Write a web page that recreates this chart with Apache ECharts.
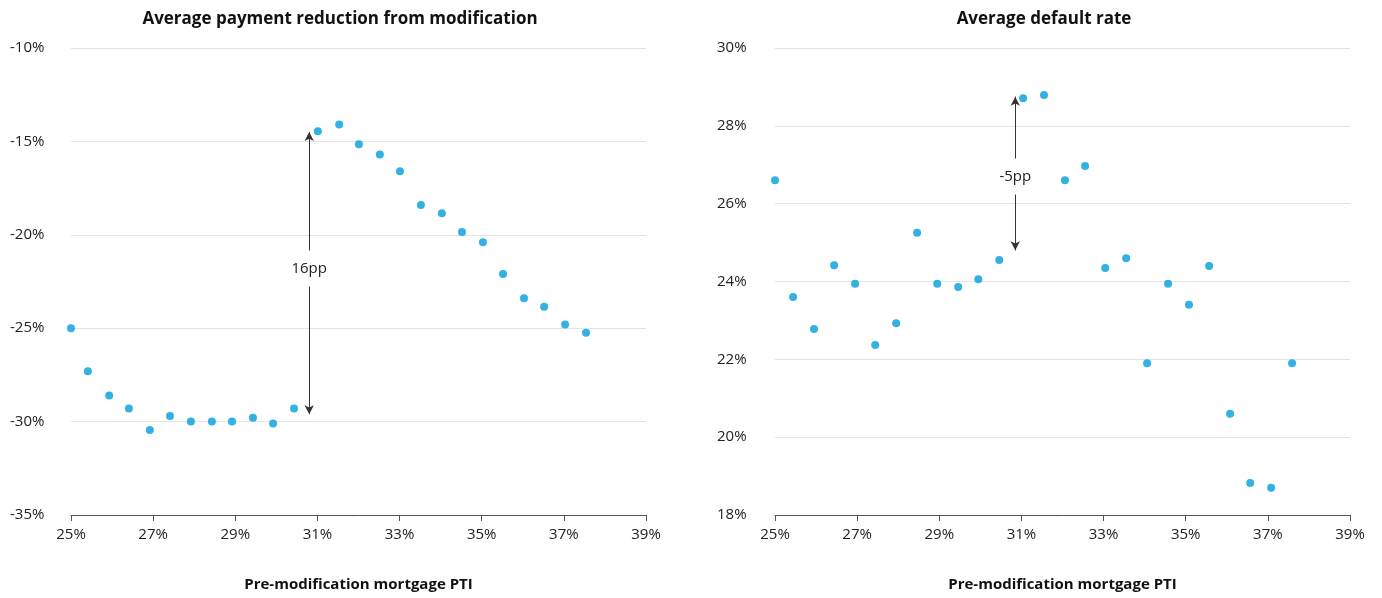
<!DOCTYPE html>
<html><head><meta charset="utf-8">
<script src="https://cdn.jsdelivr.net/npm/echarts@6/dist/echarts.min.js"></script>
<style>html,body{margin:0;background:#fff}#c{width:1382px;height:598px}</style>
</head><body><div id="c"></div>
<script>
var ptiLeft = [25.0,25.41,25.93,26.41,26.92,27.41,27.92,28.43,28.92,29.43,29.92,30.43,31.01,31.53,32.01,32.52,33.01,33.52,34.03,34.52,35.03,35.52,36.03,36.52,37.03,37.54];
var paymentReduction = [-25.0,-27.3,-28.6,-29.3,-30.45,-29.7,-30.0,-30.0,-30.0,-29.8,-30.1,-29.3,-14.45,-14.1,-15.15,-15.7,-16.6,-18.4,-18.85,-19.85,-20.4,-22.1,-23.4,-23.85,-24.8,-25.25];
var ptiRight = [25.0,25.44,25.95,26.44,26.95,27.44,27.95,28.46,28.95,29.46,29.95,30.46,31.04,31.55,32.06,32.55,33.04,33.55,34.06,34.57,35.08,35.57,36.08,36.57,37.08,37.59];
var defaultRate = [26.6,23.6,22.78,24.42,23.94,22.37,22.93,25.25,23.94,23.86,24.06,24.55,28.71,28.79,26.6,26.97,24.35,24.6,21.9,23.94,23.4,24.4,20.6,18.82,18.7,21.9];

function pairs(xs, ys){ return xs.map(function(x,i){ return [x, ys[i]]; }); }

var font = "'Open Sans', sans-serif";
var xAxisBase = {
  type: 'value', min: 25, max: 39, interval: 2,
  name: 'Pre-modification mortgage PTI', nameLocation: 'middle', nameGap: 62,
  nameTextStyle: { fontWeight: 'bold', fontSize: 15, color: '#111' },
  axisLine: { lineStyle: { color: '#555' } },
  axisTick: { show: true, length: 6, lineStyle: { color: '#555' } },
  axisLabel: { formatter: '{value}%', fontSize: 15, color: '#222', margin: 12 },
  splitLine: { show: false }
};
function yAxis(min, max, interval, margin){
  return { type: 'value', min: min, max: max, interval: interval,
    axisLine: { show: false }, axisTick: { show: false },
    axisLabel: { formatter: '{value}%', fontSize: 15, color: '#222', align: 'left', margin: margin },
    splitLine: { lineStyle: { color: '#e3e3e3' } } };
}
function arrowLine(x, y1, y2){
  return { silent: true, symbol: ['arrow','arrow'], symbolSize: [7, 9],
    lineStyle: { color: '#333', width: 1, type: 'solid' },
    label: { show: false },
    data: [[{ coord: [x, y1] }, { coord: [x, y2] }]] };
}
function arrowText(x, y, text){
  return { silent: true,
    data: [{ coord: [x, y], symbol: 'rect', symbolSize: [44, 36],
      itemStyle: { color: '#fff' },
      label: { show: true, position: 'inside', formatter: text, fontSize: 15, color: '#222' } }] };
}

var chart = echarts.init(document.getElementById('c'));
chart.setOption({
  animation: false,
  textStyle: { fontFamily: font },
  title: [
    { text: 'Average payment reduction from modification', left: 335, top: 6, textAlign: 'center',
      textStyle: { fontSize: 17, fontWeight: 'bold', color: '#111' } },
    { text: 'Average default rate', left: 1039, top: 6, textAlign: 'center',
      textStyle: { fontSize: 17, fontWeight: 'bold', color: '#111' } }
  ],
  grid: [
    { left: 71, right: 736, top: 48, bottom: 83 },
    { left: 775, right: 32, top: 48, bottom: 83 }
  ],
  xAxis: [
    Object.assign({ gridIndex: 0 }, xAxisBase),
    Object.assign({ gridIndex: 1 }, xAxisBase)
  ],
  yAxis: [
    Object.assign({ gridIndex: 0 }, yAxis(-35, -10, 5, 61)),
    Object.assign({ gridIndex: 1 }, yAxis(18, 30, 2, 58))
  ],
  series: [
    { type: 'scatter', xAxisIndex: 0, yAxisIndex: 0, symbolSize: 8,
      itemStyle: { color: '#009fdb' }, data: pairs(ptiLeft, paymentReduction),
      markLine: arrowLine(30.8, -14.5, -29.6),
      markPoint: arrowText(30.8, -21.8, '16pp') },
    { type: 'scatter', xAxisIndex: 1, yAxisIndex: 1, symbolSize: 8,
      itemStyle: { color: '#009fdb' }, data: pairs(ptiRight, defaultRate),
      markLine: arrowLine(30.85, 28.75, 24.8),
      markPoint: arrowText(30.85, 26.7, '-5pp') }
  ]
});
</script></body></html>
